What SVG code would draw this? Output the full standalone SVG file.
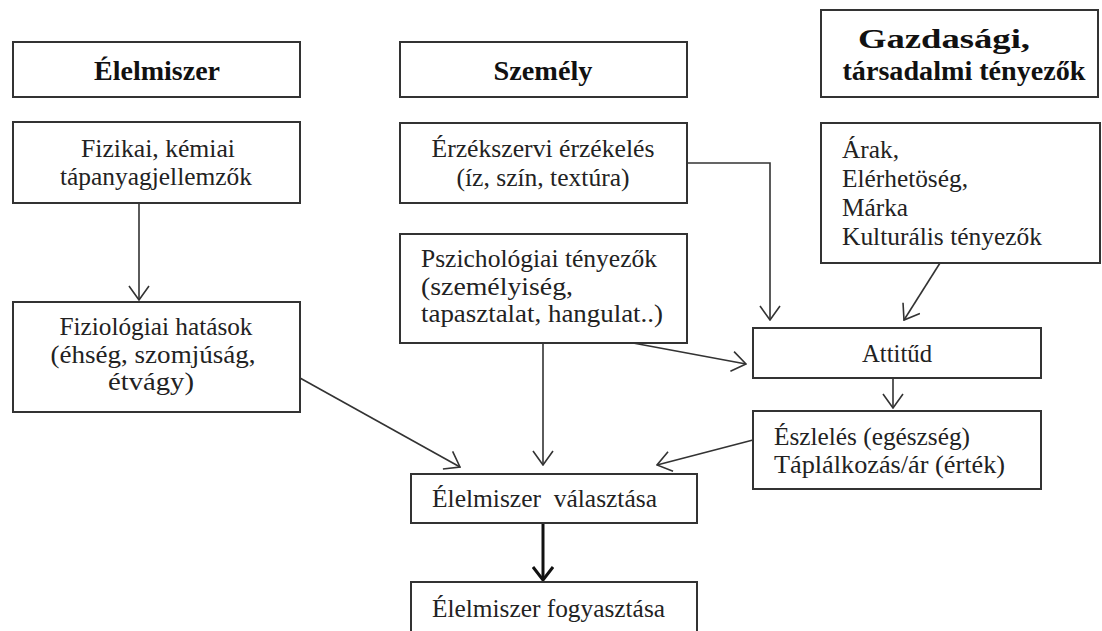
<svg xmlns="http://www.w3.org/2000/svg" width="1102" height="631" viewBox="0 0 1102 631">
<style>
.box{fill:#fff;stroke:#333;stroke-width:2}
.t{font-family:"Liberation Serif","Times New Roman",serif;font-size:25px;fill:#222}
.h{font-family:"Liberation Serif","Times New Roman",serif;font-size:27px;font-weight:bold;fill:#111}
.c{text-anchor:middle}
.ln{fill:none;stroke:#333;stroke-width:1.6}
.thick{fill:none;stroke:#111;stroke-width:3}
</style>
<defs>
<marker id="arr" viewBox="0 0 16 22" refX="15" refY="11" markerWidth="16" markerHeight="22" markerUnits="userSpaceOnUse" orient="auto">
<path d="M1,1 L15,11 L1,21" fill="none" stroke="#333" stroke-width="1.6"/>
</marker>
<marker id="arrT" viewBox="0 0 16 22" refX="14" refY="11" markerWidth="16" markerHeight="22" markerUnits="userSpaceOnUse" orient="auto">
<path d="M1,1 L14,11 L1,21" fill="none" stroke="#111" stroke-width="3"/>
</marker>
</defs>
<rect width="1102" height="631" fill="#fff"/>

<g id="connectors">
<line class="ln" x1="139" y1="203" x2="139" y2="300" marker-end="url(#arr)"/>
<polyline class="ln" points="687,163 770,163 770,320" marker-end="url(#arr)"/>
<line class="ln" x1="940" y1="263" x2="904" y2="320" marker-end="url(#arr)"/>
<line class="ln" x1="633" y1="343" x2="746" y2="364" marker-end="url(#arr)"/>
<line class="ln" x1="543" y1="343" x2="543" y2="465" marker-end="url(#arr)"/>
<line class="ln" x1="300" y1="378" x2="460" y2="467" marker-end="url(#arr)"/>
<line class="ln" x1="753" y1="440" x2="657" y2="465" marker-end="url(#arr)"/>
<line class="ln" x1="893" y1="378" x2="893" y2="408" marker-end="url(#arr)"/>
<line class="thick" x1="543" y1="523" x2="543" y2="580" marker-end="url(#arrT)"/>
</g>

<g id="n-elelmiszer">
<rect class="box" x="13" y="42" width="287" height="55"/>
<text class="h c" x="157" y="80" textLength="126" lengthAdjust="spacingAndGlyphs">Élelmiszer</text>
</g>
<g id="n-szemely">
<rect class="box" x="400" y="42" width="287" height="55"/>
<text class="h c" x="543" y="80" textLength="99" lengthAdjust="spacingAndGlyphs">Személy</text>
</g>
<g id="n-gazdasagi">
<rect class="box" x="821" y="10" width="277" height="87"/>
<text class="h c" x="944" y="48" textLength="172" lengthAdjust="spacingAndGlyphs">Gazdasági,</text>
<text class="h c" x="964" y="80" textLength="243" lengthAdjust="spacingAndGlyphs">társadalmi tényezők</text>
</g>
<g id="n-fizikai">
<rect class="box" x="13" y="122" width="287" height="81"/>
<text class="t c" x="158" y="157" textLength="154" lengthAdjust="spacingAndGlyphs">Fizikai, kémiai</text>
<text class="t c" x="156" y="185" textLength="192" lengthAdjust="spacingAndGlyphs">tápanyagjellemzők</text>
</g>
<g id="n-erzekszervi">
<rect class="box" x="400" y="123" width="287" height="80"/>
<text class="t c" x="543" y="157" textLength="223" lengthAdjust="spacingAndGlyphs">Érzékszervi érzékelés</text>
<text class="t c" x="543" y="186" textLength="173" lengthAdjust="spacingAndGlyphs">(íz, szín, textúra)</text>
</g>
<g id="n-arak">
<rect class="box" x="821" y="123" width="279" height="140"/>
<text class="t" x="842" y="158" textLength="57" lengthAdjust="spacingAndGlyphs">Árak,</text>
<text class="t" x="842" y="187" textLength="126" lengthAdjust="spacingAndGlyphs">Elérhetöség,</text>
<text class="t" x="842" y="216" textLength="66" lengthAdjust="spacingAndGlyphs">Márka</text>
<text class="t" x="842" y="245" textLength="200" lengthAdjust="spacingAndGlyphs">Kulturális tényezők</text>
</g>
<g id="n-fiziologiai">
<rect class="box" x="13" y="302" width="287" height="110"/>
<text class="t c" x="156" y="335" textLength="193" lengthAdjust="spacingAndGlyphs">Fiziológiai hatások</text>
<text class="t c" x="153" y="363" textLength="205" lengthAdjust="spacingAndGlyphs">(éhség, szomjúság,</text>
<text class="t c" x="151" y="390" textLength="86" lengthAdjust="spacingAndGlyphs">étvágy)</text>
</g>
<g id="n-pszichologiai">
<rect class="box" x="400" y="234" width="287" height="109"/>
<text class="t" x="421" y="267" textLength="236" lengthAdjust="spacingAndGlyphs">Pszichológiai tényezők</text>
<text class="t" x="421" y="295" textLength="152" lengthAdjust="spacingAndGlyphs">(személyiség,</text>
<text class="t" x="421" y="322" textLength="242" lengthAdjust="spacingAndGlyphs">tapasztalat, hangulat..)</text>
</g>
<g id="n-attitud">
<rect class="box" x="753" y="328" width="288" height="50"/>
<text class="t c" x="897" y="362" textLength="70" lengthAdjust="spacingAndGlyphs">Attitűd</text>
</g>
<g id="n-eszleles">
<rect class="box" x="753" y="411" width="288" height="78"/>
<text class="t" x="774" y="445" textLength="196" lengthAdjust="spacingAndGlyphs">Észlelés (egészség)</text>
<text class="t" x="774" y="473" textLength="231" lengthAdjust="spacingAndGlyphs">Táplálkozás/ár (érték)</text>
</g>
<g id="n-valasztasa">
<rect class="box" x="411" y="474" width="286" height="49"/>
<text class="t" x="432" y="507" textLength="225" lengthAdjust="spacingAndGlyphs" xml:space="preserve">Élelmiszer  választása</text>
</g>
<g id="n-fogyasztasa">
<rect class="box" x="411" y="582" width="286" height="60"/>
<text class="t" x="432" y="617" textLength="233" lengthAdjust="spacingAndGlyphs">Élelmiszer fogyasztása</text>
</g>
</svg>
